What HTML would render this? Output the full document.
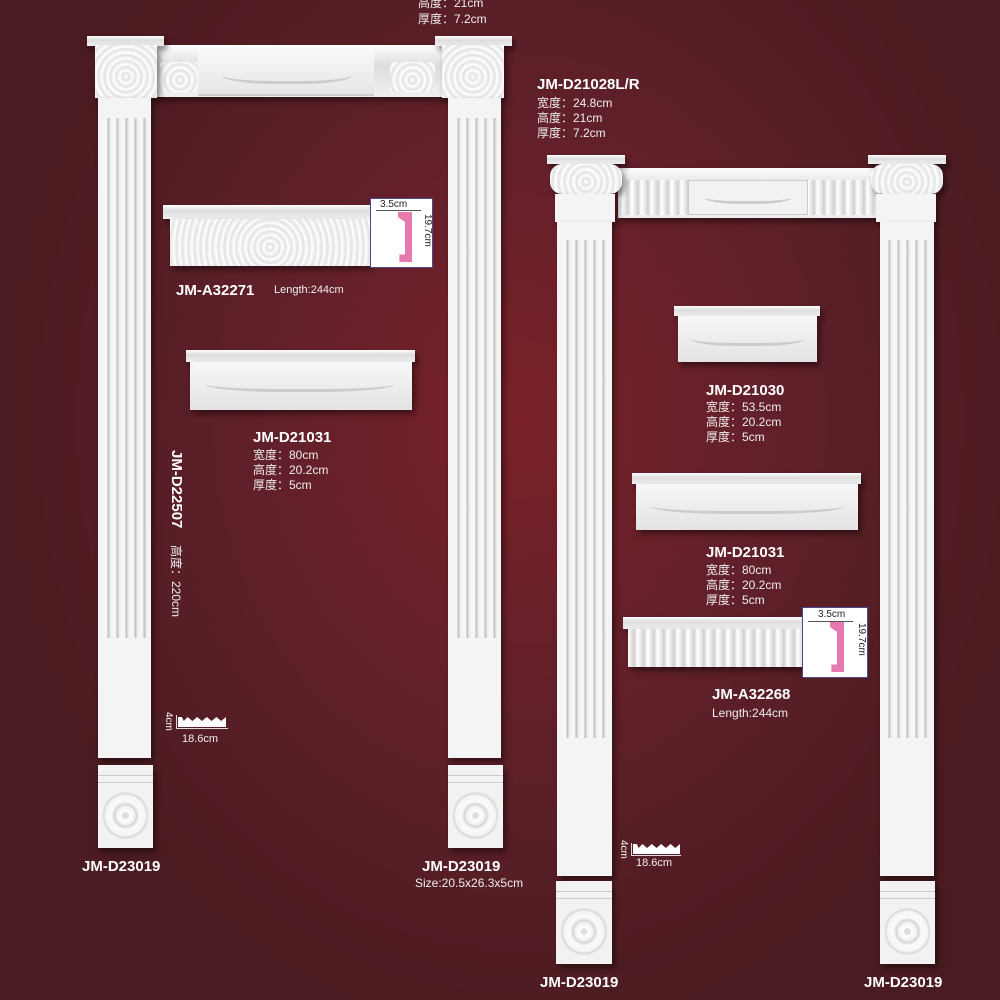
<!DOCTYPE html>
<html><head><meta charset="utf-8"><style>
body{margin:0;width:1000px;height:1000px;overflow:hidden;position:relative;
background:radial-gradient(ellipse 520px 620px at 520px 420px,#7a2128 0%,#63202a 45%,#4a1b20 100%);
font-family:"Liberation Sans","Noto Sans CJK SC",sans-serif;color:#fff}
div{position:absolute;box-sizing:border-box}
.w{background:#f4f4f4;box-shadow:3px 4px 6px rgba(0,0,0,.45)}
.fl{background:#f6f6f6 repeating-linear-gradient(90deg,#f6f6f6 0,#f6f6f6 4px,#b9b9b9 5px,#e8e8e8 7px,#f6f6f6 9px);box-shadow:3px 4px 6px rgba(0,0,0,.45)}
.cap{background:linear-gradient(#fff,#ddd 40%,#f0f0f0);box-shadow:3px 4px 6px rgba(0,0,0,.45)}
.dent{background:repeating-linear-gradient(90deg,#fff 0,#d0d0d0 6px,#fafafa 9px,#fff 10px)}
.t{font-size:12px;line-height:15px;white-space:nowrap;color:#eee}
.b{font-weight:bold;font-size:15px;white-space:nowrap;color:#fff}
.plinth{background:#f2f2f2;box-shadow:3px 4px 6px rgba(0,0,0,.45)}
.plinth:after{content:"";position:absolute;left:5px;right:5px;bottom:5px;height:calc(100% - 28px);border-radius:50%;background:radial-gradient(circle,#ddd 0 3px,#fff 4px,#f2f2f2 9px,#d5d5d5 11px,#fafafa 14px,#f5f5f5 20px,#d8d8d8 22px,#f2f2f2 24px)}
.plinth:before{content:"";position:absolute;left:0;right:0;top:10px;height:6px;border-top:1px solid #ccc;border-bottom:1px solid #ccc}
.orn{background:repeating-radial-gradient(circle at 50% 60%,#fff 0,#e2e2e2 4px,#fff 6px)}
.box{background:#fff;border:1px solid #4a4a8a}
</style></head><body>

<div class="t" style="left:418px;top:-4px">高度：21cm</div>
<div class="t" style="left:418px;top:12px">厚度：7.2cm</div>

<!-- LEFT DOOR -->
<div class="cap" style="left:155px;top:45px;width:290px;height:52px"></div>
<div class="orn" style="left:160px;top:62px;width:40px;height:30px"></div>
<div class="orn" style="left:390px;top:62px;width:45px;height:30px"></div>
<div style="left:198px;top:48px;width:176px;height:48px;background:linear-gradient(#fafafa,#e6e6e6);border-bottom:2px solid #ccc"></div>
<div style="left:222px;top:62px;width:130px;height:22px;border-bottom:3px solid #ccc;border-radius:0 0 40% 40%"></div>

<div class="cap" style="left:87px;top:36px;width:77px;height:10px"></div>
<div class="cap orn" style="left:95px;top:45px;width:62px;height:53px"></div>
<div class="cap" style="left:435px;top:36px;width:77px;height:10px"></div>
<div class="cap orn" style="left:442px;top:45px;width:62px;height:53px"></div>

<div class="w" style="left:98px;top:98px;width:53px;height:660px"></div>
<div class="fl" style="left:103px;top:118px;width:44px;height:520px;box-shadow:none"></div>
<div class="w" style="left:448px;top:98px;width:53px;height:660px"></div>
<div class="fl" style="left:453px;top:118px;width:44px;height:520px;box-shadow:none"></div>

<div class="plinth" style="left:98px;top:765px;width:55px;height:83px"></div>
<div class="plinth" style="left:448px;top:765px;width:55px;height:83px"></div>
<div class="b" style="left:82px;top:858px">JM-D23019</div>
<div class="b" style="left:422px;top:858px">JM-D23019</div>
<div class="t" style="left:415px;top:876px">Size:20.5x26.3x5cm</div>

<!-- A32271 -->
<div class="cap" style="left:163px;top:205px;width:207px;height:14px"></div>
<div class="w orn" style="left:170px;top:219px;width:200px;height:47px"></div>
<div class="box" style="left:370px;top:198px;width:63px;height:70px"></div>
<div style="left:376px;top:210px;width:45px;height:1px;background:#555"></div>
<div style="left:380px;top:199px;font-size:10px;color:#222">3.5cm</div>
<div style="left:398px;top:212px;width:14px;height:50px;background:#e57ab0;clip-path:polygon(0 0,100% 0,100% 100%,10% 100%,10% 85%,50% 85%,50% 20%,0 10%)"></div>
<div style="top:214px;font-size:10px;color:#222;transform:rotate(90deg);transform-origin:0 0;left:433px;white-space:nowrap">19.7cm</div>
<div class="b" style="left:176px;top:282px">JM-A32271</div>
<div class="t" style="left:274px;top:283px;font-size:11px">Length:244cm</div>

<!-- D21031 left -->
<div class="cap" style="left:186px;top:350px;width:229px;height:12px"></div>
<div class="w" style="left:190px;top:362px;width:222px;height:48px;background:linear-gradient(#f7f7f7,#e3e3e3)"></div>
<div style="left:205px;top:372px;width:190px;height:20px;border-bottom:3px solid #ccc;border-radius:0 0 40% 40%"></div>
<div class="b" style="left:253px;top:429px">JM-D21031</div>
<div class="t" style="left:253px;top:448px">宽度：80cm</div>
<div class="t" style="left:253px;top:463px">高度：20.2cm</div>
<div class="t" style="left:253px;top:478px">厚度：5cm</div>

<div class="b" style="left:185px;top:450px;transform:rotate(90deg);transform-origin:0 0">JM-D22507</div>
<div class="t" style="left:183px;top:545px;transform:rotate(90deg);transform-origin:0 0">高度：220cm</div>

<div style="left:176px;top:715px;width:52px;height:14px;border-left:1px solid #ddd;border-bottom:1px solid #ddd"></div>
<div style="left:178px;top:717px;width:48px;height:10px;background:#fff;clip-path:polygon(0 0,8% 0,12% 40%,20% 0,30% 40%,40% 0,50% 40%,60% 0,70% 40%,80% 0,90% 40%,100% 0,100% 100%,0 100%)"></div>
<div style="top:712px;font-size:10px;transform:rotate(90deg);transform-origin:0 0;left:174px">4cm</div>
<div style="left:182px;top:733px;font-size:11px;color:#eee">18.6cm</div>

<!-- RIGHT DOOR -->
<div class="b" style="left:537px;top:76px">JM-D21028L/R</div>
<div class="t" style="left:537px;top:96px">宽度：24.8cm</div>
<div class="t" style="left:537px;top:111px">高度：21cm</div>
<div class="t" style="left:537px;top:126px">厚度：7.2cm</div>

<div class="cap" style="left:618px;top:168px;width:262px;height:50px"></div>
<div class="dent" style="left:622px;top:180px;width:66px;height:35px"></div>
<div class="dent" style="left:808px;top:180px;width:66px;height:35px"></div>
<div style="left:688px;top:180px;width:120px;height:35px;background:#f2f2f2;border:1px solid #ccc"></div>
<div style="left:705px;top:188px;width:86px;height:16px;border-bottom:3px solid #ccc;border-radius:0 0 40% 40%"></div>

<div class="cap" style="left:547px;top:155px;width:78px;height:9px"></div>
<div class="cap orn" style="left:550px;top:164px;width:72px;height:30px;border-radius:12px"></div>
<div class="w" style="left:555px;top:194px;width:60px;height:28px"></div>
<div class="cap" style="left:868px;top:155px;width:78px;height:9px"></div>
<div class="cap orn" style="left:871px;top:164px;width:72px;height:30px;border-radius:12px"></div>
<div class="w" style="left:876px;top:194px;width:60px;height:28px"></div>

<div class="w" style="left:557px;top:222px;width:55px;height:654px"></div>
<div class="fl" style="left:562px;top:240px;width:46px;height:498px;box-shadow:none"></div>
<div class="w" style="left:880px;top:222px;width:54px;height:654px"></div>
<div class="fl" style="left:884px;top:240px;width:46px;height:498px;box-shadow:none"></div>

<div class="plinth" style="left:556px;top:881px;width:56px;height:83px"></div>
<div class="plinth" style="left:880px;top:881px;width:55px;height:83px"></div>
<div class="b" style="left:540px;top:974px">JM-D23019</div>
<div class="b" style="left:864px;top:974px">JM-D23019</div>

<!-- D21030 -->
<div class="cap" style="left:674px;top:306px;width:146px;height:10px"></div>
<div class="w" style="left:678px;top:316px;width:139px;height:46px;background:linear-gradient(#f7f7f7,#e3e3e3)"></div>
<div style="left:690px;top:328px;width:115px;height:18px;border-bottom:3px solid #ccc;border-radius:0 0 40% 40%"></div>
<div class="b" style="left:706px;top:382px">JM-D21030</div>
<div class="t" style="left:706px;top:400px">宽度：53.5cm</div>
<div class="t" style="left:706px;top:415px">高度：20.2cm</div>
<div class="t" style="left:706px;top:430px">厚度：5cm</div>

<!-- D21031 right -->
<div class="cap" style="left:632px;top:473px;width:229px;height:11px"></div>
<div class="w" style="left:636px;top:484px;width:222px;height:46px;background:linear-gradient(#f7f7f7,#e3e3e3)"></div>
<div style="left:650px;top:494px;width:195px;height:20px;border-bottom:3px solid #ccc;border-radius:0 0 40% 40%"></div>
<div class="b" style="left:706px;top:544px">JM-D21031</div>
<div class="t" style="left:706px;top:563px">宽度：80cm</div>
<div class="t" style="left:706px;top:578px">高度：20.2cm</div>
<div class="t" style="left:706px;top:593px">厚度：5cm</div>

<!-- A32268 -->
<div class="cap" style="left:623px;top:617px;width:180px;height:12px"></div>
<div class="w dent" style="left:628px;top:629px;width:175px;height:38px"></div>
<div class="box" style="left:802px;top:607px;width:66px;height:71px"></div>
<div style="left:808px;top:621px;width:45px;height:1px;background:#555"></div>
<div style="left:818px;top:609px;font-size:10px;color:#222">3.5cm</div>
<div style="left:830px;top:622px;width:14px;height:50px;background:#e57ab0;clip-path:polygon(0 0,100% 0,100% 100%,10% 100%,10% 85%,50% 85%,50% 20%,0 10%)"></div>
<div style="left:867px;top:623px;font-size:10px;color:#222;transform:rotate(90deg);transform-origin:0 0;white-space:nowrap">19.7cm</div>
<div class="b" style="left:712px;top:686px">JM-A32268</div>
<div class="t" style="left:712px;top:706px">Length:244cm</div>

<div style="left:631px;top:843px;width:50px;height:13px;border-left:1px solid #ddd;border-bottom:1px solid #ddd"></div>
<div style="left:633px;top:844px;width:47px;height:10px;background:#fff;clip-path:polygon(0 0,8% 0,12% 40%,20% 0,30% 40%,40% 0,50% 40%,60% 0,70% 40%,80% 0,90% 40%,100% 0,100% 100%,0 100%)"></div>
<div style="left:629px;top:840px;font-size:10px;transform:rotate(90deg);transform-origin:0 0">4cm</div>
<div style="left:636px;top:857px;font-size:11px;color:#eee">18.6cm</div>

</body></html>
